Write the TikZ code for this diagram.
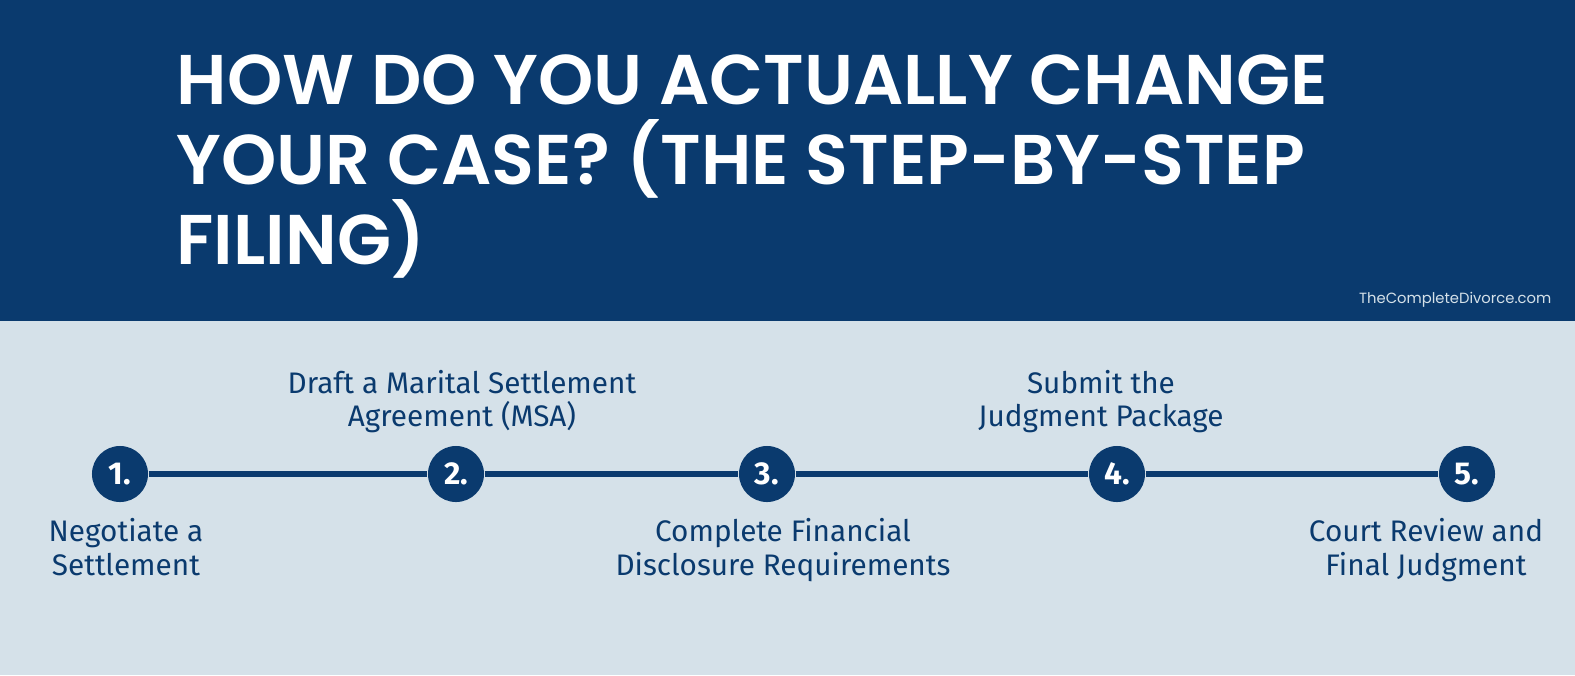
\documentclass[tikz,border=0pt]{standalone}
\usepackage{fontspec}
\setmainfont{Fira Sans}
\newfontfamily\titlefont{Poppins}[BoldFont={Poppins SemiBold}]
\definecolor{navy}{HTML}{0A3A6E}
\definecolor{pale}{HTML}{D5E1E9}
\begin{document}
\begin{tikzpicture}[x=0.01cm,y=-0.01cm,
  stepdot/.style={circle,fill=navy,inner sep=0pt,minimum size=0.56cm,text=white,font=\bfseries\fontsize{9pt}{10pt}\selectfont},
  steplabel/.style={text=navy,align=center,inner sep=0pt,font=\fontsize{8.45pt}{9.42pt}\selectfont},
  link/.style={navy,line width=1.5pt}]
\useasboundingbox (0,0) rectangle (1575,675);
\fill[pale] (0,0) rectangle (1575,675);
\fill[navy] (0,0) rectangle (1575,321);
\node[anchor=north west,inner sep=0pt,align=left,text=white,font=\titlefont\bfseries\fontsize{20pt}{22.8pt}\selectfont] (title) at (176,54)
 {HOW DO YOU ACTUALLY CHANGE\\YOUR CASE? (THE STEP-BY-STEP\\FILING)};
\node[anchor=base east,inner sep=0pt,text=pale,font=\titlefont\fontsize{4.2pt}{5pt}\selectfont] (site) at (1552,303) {TheCompleteDivorce.com};
\node[stepdot] (s1) at (120,474) {1.};
\node[stepdot] (s2) at (456,474) {2.};
\node[stepdot] (s3) at (767,474) {3.};
\node[stepdot] (s4) at (1117,474) {4.};
\node[stepdot] (s5) at (1467,474) {5.};
\draw[link] (s1) -- (s2);
\draw[link] (s2) -- (s3);
\draw[link] (s3) -- (s4);
\draw[link] (s4) -- (s5);
\node[steplabel,anchor=north] (l1) at (126,518) {Negotiate a\\Settlement};
\node[steplabel,anchor=south] (l2) at (462,434) {Draft a Marital Settlement\\Agreement (MSA)};
\node[steplabel,anchor=north] (l3) at (783,518) {Complete Financial\\Disclosure Requirements};
\node[steplabel,anchor=south] (l4) at (1101,434) {Submit the\\Judgment Package};
\node[steplabel,anchor=north] (l5) at (1426,518) {Court Review and\\Final Judgment};
\end{tikzpicture}
\end{document}
